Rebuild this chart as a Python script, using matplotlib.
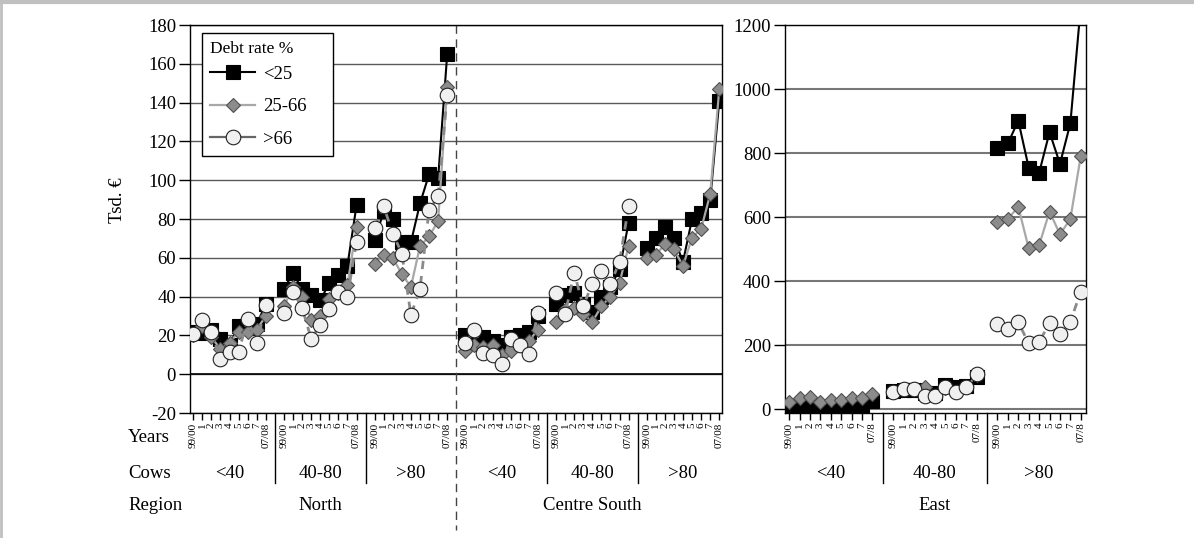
import matplotlib
matplotlib.use("Agg")
import matplotlib.pyplot as plt
import matplotlib.transforms as mtransforms
from matplotlib.lines import Line2D
import numpy as np

plt.rcParams['font.family'] = ['Liberation Serif', 'DejaVu Serif']
plt.rcParams['axes.unicode_minus'] = False

# ---------------- data ----------------
years_left = ["99/00", "1", "2", "3", "4", "5", "6", "7", "07/08"]
years_east = ["99/00", "1", "2", "3", "4", "5", "6", "7", "07/8"]
cow_groups = ["<40", "40-80", ">80"]
debt_labels = ["<25", "25-66", ">66"]

# North (Tsd. EUR), per cow group: <40, 40-80, >80
north_lt25 = [[22, 21, 23, 18, 15, 25, 24, 26, 36],
              [44, 52, 44, 41, 38, 47, 51, 56, 87],
              [69, 84, 80, 68, 68, 88, 103, 101, 165]]
north_25_66 = [[20, 25, 19, 13, 16, 22, 22, 23, 30],
               [35, 45, 40, 28, 30, 39, 42, 46, 76],
               [57, 61.5, 60, 51.5, 45, 66, 71, 79, 148]]
north_gt66 = [[20.5, 28, 21.7, 8, 11.4, 11.4, 28.6, 15.9, 35.5],
              [31.7, 42.5, 34.3, 18.3, 25.3, 33.8, 42.5, 40, 68.4],
              [75.6, 86.5, 72.5, 62.2, 30.5, 44, 84.6, 91.6, 144]]

# Centre South
cs_lt25 = [[20, 18, 19, 17, 15, 19, 20, 22, 30],
           [36, 41, 42, 36, 32, 40, 45, 54, 78],
           [65, 70, 76, 70, 58, 80, 83, 90, 141]]
cs_25_66 = [[12, 15, 14, 15, 10, 12, 15, 17, 23],
            [27, 33, 34, 31, 27, 35, 40, 47, 66],
            [60, 61.5, 67, 64.4, 55.8, 70.4, 74.8, 92.9, 147]]
cs_gt66 = [[16.2, 22.6, 10.7, 9.8, 5.3, 18.3, 14.8, 10.2, 31.4],
           [42, 30.8, 52.4, 35.1, 46.7, 53.2, 46.4, 58, 86.5],
           [np.nan] * 9]

# East
east_lt25 = [[10, 10, 12, 5, 5, 8, 8, 10, 25],
             [55, 58, 60, 50, 50, 75, 70, 72, 100],
             [815, 830, 901, 754, 738, 865, 766, 893, 1260]]
east_25_66 = [[23, 33, 36, 23, 28, 28, 33, 33, 47],
              [52, 62, 62, 70, 42, 66, 54, 68, 105],
              [585, 594, 632, 502, 512, 617, 546, 594, 791]]
east_gt66 = [[np.nan] * 9,
             [52, 62.5, 62.5, 41.7, 41.7, 67.7, 54, 69.8, 109],
             [265, 250, 271, 205, 210, 268, 233, 273, 367]]

# ---------------- styles ----------------
styles = [
    dict(color='black', lw=1.5, ls='-', marker='s', ms=10.5, mfc='black', mec='black', mew=0.8),
    dict(color='#a8a8a8', lw=1.6, ls='-', marker='D', ms=7, mfc='#8c8c8c', mec='#505050', mew=0.8),
    dict(color='#8a8a8a', lw=2.0, ls=(0, (3, 2.5)), marker='o', ms=10.5, mfc='#f0f0f0', mec='#222222', mew=0.8),
]

W, H = 1194, 538
fig = plt.figure(figsize=(W / 100, H / 100), dpi=100)
# light gray frame on the top and left edges
fig.add_artist(Line2D([0, 1], [1 - 1.5 / H, 1 - 1.5 / H], transform=fig.transFigure,
                      color='#c0c0c0', lw=3))
fig.add_artist(Line2D([1 / W, 1 / W], [0, 1], transform=fig.transFigure,
                      color='#c0c0c0', lw=2))

ax1 = fig.add_axes([190 / W, (H - 413) / H, 532 / W, 388 / H])
ax2 = fig.add_axes([785 / W, (H - 413) / H, 301 / W, 388 / H])


def series_xy(groups, offset):
    xs, ys = [], []
    for g, vals in enumerate(groups):
        xs += [offset + g * 10 + i for i in range(9)] + [offset + g * 10 + 9]
        ys += list(vals) + [np.nan]
    return xs, ys


def draw(ax, series_list, offset):
    for k, groups in enumerate(series_list):
        xs, ys = series_xy(groups, offset)
        ax.plot(xs, ys, zorder=3 + k, **styles[k])


draw(ax1, [north_lt25, north_25_66, north_gt66], 0)
draw(ax1, [cs_lt25, cs_25_66, cs_gt66], 30)
draw(ax2, [east_lt25, east_25_66, east_gt66], 0)

# axes setup
ax1.set_xlim(-0.36, 58.3)
ax1.set_ylim(-20, 180)
ax1.set_yticks(np.arange(-20, 181, 20))
ax2.set_xlim(-0.4, 28.5)
ax2.set_ylim(-12.5, 1200)
ax2.set_yticks(np.arange(0, 1201, 200))

for ax in (ax1, ax2):
    ax.set_axisbelow(True)
    ax.yaxis.grid(True, color='#5a5a5a', lw=1)
    for s in ax.spines.values():
        s.set_color('black')
        s.set_linewidth(1)
    ax.tick_params(axis='y', direction='out', length=8, width=1, labelsize=13.5, pad=2)
    ax.tick_params(axis='x', direction='out', length=5, width=1, labelsize=8, pad=2)
ax1.axhline(0, color='black', lw=1.2, zorder=1)
ax2.yaxis.grid(True, color='#777777', lw=1.5)

left_pos = [o + g * 10 + i for o in (0, 30) for g in range(3) for i in range(9)]
ax1.set_xticks(left_pos)
ax1.set_xticklabels(years_left * 6, rotation=90, va='top')
east_pos = [g * 10 + i for g in range(3) for i in range(9)]
ax2.set_xticks(east_pos)
ax2.set_xticklabels(years_east * 3, rotation=90, va='top')

# separators and group labels
for ax, offsets in ((ax1, (0, 30)), (ax2, (0,))):
    tr = mtransforms.blended_transform_factory(ax.transData, ax.transAxes)
    for o in offsets:
        for g in range(3):
            ax.text(o + g * 10 + 4, (413 - 474) / 388, cow_groups[g], transform=tr,
                    ha='center', va='center', fontsize=13.5)
            if g < 2:
                ax.plot([o + g * 10 + 9] * 2, [0, -0.18], transform=tr, clip_on=False,
                        color='black', lw=1)

tr1 = mtransforms.blended_transform_factory(ax1.transData, ax1.transAxes)
ax1.plot([29, 29], [1, -(530 - 413) / 388], transform=tr1, clip_on=False,
         color='#444444', lw=1, ls=(0, (6, 4)), zorder=2)
ax1.text(14, (413 - 505) / 388, "North", transform=tr1, ha='center', va='center', fontsize=13.5)
ax1.text(44, (413 - 505) / 388, "Centre South", transform=tr1, ha='center', va='center', fontsize=13.5)
tr2 = mtransforms.blended_transform_factory(ax2.transData, ax2.transAxes)
ax2.text(14, (413 - 505) / 388, "East", transform=tr2, ha='center', va='center', fontsize=13.5)

for lab, yy in (("Years", 437), ("Cows", 474), ("Region", 505)):
    fig.text(128 / W, (H - yy) / H, lab, ha='left', va='center', fontsize=13.5)
fig.text(118 / W, (H - 200) / H, "Tsd. €", rotation=90, ha='center', va='center', fontsize=13.5)

# legend
handles = []
for k in range(3):
    st = dict(styles[k])
    st['ls'] = '-'
    if k == 2:
        st['color'] = '#666666'
        st['lw'] = 1.6
    handles.append(Line2D([], [], **st))
leg = ax1.legend(handles, debt_labels, title="Debt rate %", loc='upper left',
                 bbox_to_anchor=((202 - 190) / 532, (413 - 155) / 388, 131 / 532, 122 / 388),
                 mode='expand', borderaxespad=0,
                 fontsize=13.5, title_fontsize=12.5, frameon=True, fancybox=False,
                 edgecolor='black', framealpha=1, handlelength=2.4, handletextpad=0.4,
                 borderpad=0.45, labelspacing=0.82)
leg.get_frame().set_linewidth(1)
leg._legend_box.align = "left"
leg._legend_box.sep = 6

fig.savefig("out.png", dpi=100)
